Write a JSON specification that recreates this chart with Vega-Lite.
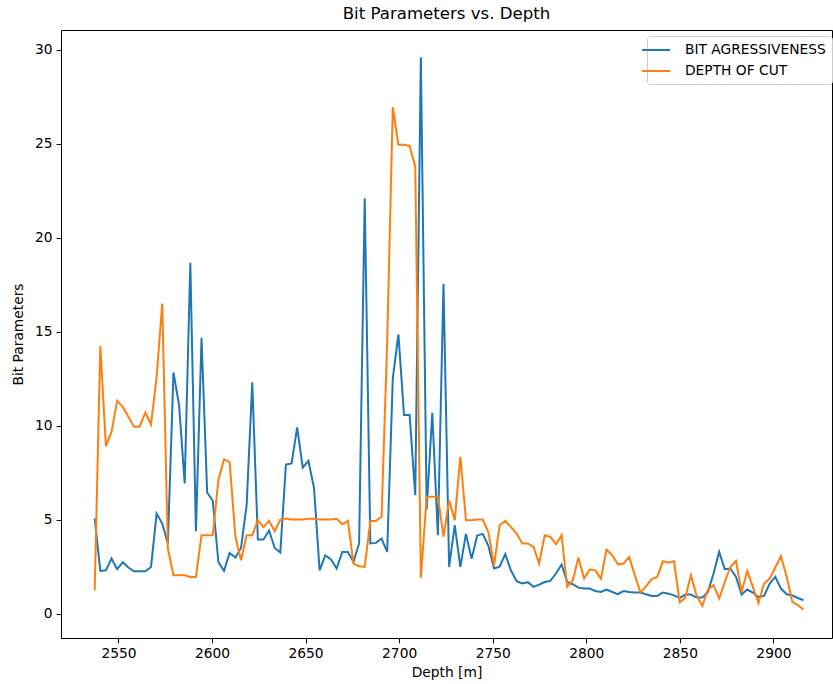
{
  "$schema": "https://vega.github.io/schema/vega-lite/v6.json",
  "width": 771,
  "height": 608,
  "autosize": {"type": "none"},
  "padding": {"left": 61, "top": 30, "right": 1, "bottom": 46},
  "background": "white",
  "title": {"text": "Bit Parameters vs. Depth", "font": "DejaVu Sans", "fontSize": 16.6, "fontWeight": "normal", "color": "black", "offset": 7, "anchor": "middle", "frame": "group"},
  "data": {"values": [
    {"Depth": 2537.3, "BIT AGRESSIVENESS": 5.06, "DEPTH OF CUT": 1.24},
    {"Depth": 2540.3, "BIT AGRESSIVENESS": 2.27, "DEPTH OF CUT": 14.23},
    {"Depth": 2543.3, "BIT AGRESSIVENESS": 2.3, "DEPTH OF CUT": 8.91},
    {"Depth": 2546.3, "BIT AGRESSIVENESS": 2.93, "DEPTH OF CUT": 9.67},
    {"Depth": 2549.3, "BIT AGRESSIVENESS": 2.36, "DEPTH OF CUT": 11.32},
    {"Depth": 2552.3, "BIT AGRESSIVENESS": 2.73, "DEPTH OF CUT": 11.0},
    {"Depth": 2555.3, "BIT AGRESSIVENESS": 2.45, "DEPTH OF CUT": 10.47},
    {"Depth": 2558.3, "BIT AGRESSIVENESS": 2.25, "DEPTH OF CUT": 9.94},
    {"Depth": 2561.3, "BIT AGRESSIVENESS": 2.25, "DEPTH OF CUT": 9.94},
    {"Depth": 2564.4, "BIT AGRESSIVENESS": 2.25, "DEPTH OF CUT": 10.7},
    {"Depth": 2567.4, "BIT AGRESSIVENESS": 2.48, "DEPTH OF CUT": 10.06},
    {"Depth": 2570.4, "BIT AGRESSIVENESS": 5.32, "DEPTH OF CUT": 12.6},
    {"Depth": 2573.4, "BIT AGRESSIVENESS": 4.79, "DEPTH OF CUT": 16.5},
    {"Depth": 2576.4, "BIT AGRESSIVENESS": 3.73, "DEPTH OF CUT": 3.46},
    {"Depth": 2579.4, "BIT AGRESSIVENESS": 12.83, "DEPTH OF CUT": 2.04},
    {"Depth": 2582.4, "BIT AGRESSIVENESS": 11.09, "DEPTH OF CUT": 2.04},
    {"Depth": 2585.4, "BIT AGRESSIVENESS": 6.92, "DEPTH OF CUT": 2.04},
    {"Depth": 2588.4, "BIT AGRESSIVENESS": 18.67, "DEPTH OF CUT": 1.95},
    {"Depth": 2591.4, "BIT AGRESSIVENESS": 4.38, "DEPTH OF CUT": 1.95},
    {"Depth": 2594.4, "BIT AGRESSIVENESS": 14.68, "DEPTH OF CUT": 4.17},
    {"Depth": 2597.4, "BIT AGRESSIVENESS": 6.44, "DEPTH OF CUT": 4.17},
    {"Depth": 2600.4, "BIT AGRESSIVENESS": 6.0, "DEPTH OF CUT": 4.17},
    {"Depth": 2603.4, "BIT AGRESSIVENESS": 2.75, "DEPTH OF CUT": 7.1},
    {"Depth": 2606.4, "BIT AGRESSIVENESS": 2.27, "DEPTH OF CUT": 8.2},
    {"Depth": 2609.4, "BIT AGRESSIVENESS": 3.23, "DEPTH OF CUT": 8.07},
    {"Depth": 2612.5, "BIT AGRESSIVENESS": 2.98, "DEPTH OF CUT": 4.08},
    {"Depth": 2615.5, "BIT AGRESSIVENESS": 3.49, "DEPTH OF CUT": 2.84},
    {"Depth": 2618.5, "BIT AGRESSIVENESS": 5.77, "DEPTH OF CUT": 4.17},
    {"Depth": 2621.5, "BIT AGRESSIVENESS": 12.3, "DEPTH OF CUT": 4.17},
    {"Depth": 2624.5, "BIT AGRESSIVENESS": 3.94, "DEPTH OF CUT": 4.97},
    {"Depth": 2627.5, "BIT AGRESSIVENESS": 3.94, "DEPTH OF CUT": 4.61},
    {"Depth": 2630.5, "BIT AGRESSIVENESS": 4.42, "DEPTH OF CUT": 4.93},
    {"Depth": 2633.5, "BIT AGRESSIVENESS": 3.49, "DEPTH OF CUT": 4.38},
    {"Depth": 2636.5, "BIT AGRESSIVENESS": 3.25, "DEPTH OF CUT": 5.0},
    {"Depth": 2639.5, "BIT AGRESSIVENESS": 7.93, "DEPTH OF CUT": 5.06},
    {"Depth": 2642.5, "BIT AGRESSIVENESS": 7.99, "DEPTH OF CUT": 5.0},
    {"Depth": 2645.5, "BIT AGRESSIVENESS": 9.9, "DEPTH OF CUT": 5.0},
    {"Depth": 2648.5, "BIT AGRESSIVENESS": 7.77, "DEPTH OF CUT": 5.0},
    {"Depth": 2651.5, "BIT AGRESSIVENESS": 8.13, "DEPTH OF CUT": 5.04},
    {"Depth": 2654.5, "BIT AGRESSIVENESS": 6.69, "DEPTH OF CUT": 5.04},
    {"Depth": 2657.5, "BIT AGRESSIVENESS": 2.3, "DEPTH OF CUT": 5.0},
    {"Depth": 2660.5, "BIT AGRESSIVENESS": 3.1, "DEPTH OF CUT": 5.0},
    {"Depth": 2663.6, "BIT AGRESSIVENESS": 2.88, "DEPTH OF CUT": 5.0},
    {"Depth": 2666.6, "BIT AGRESSIVENESS": 2.4, "DEPTH OF CUT": 5.04},
    {"Depth": 2669.6, "BIT AGRESSIVENESS": 3.28, "DEPTH OF CUT": 4.75},
    {"Depth": 2672.6, "BIT AGRESSIVENESS": 3.28, "DEPTH OF CUT": 4.93},
    {"Depth": 2675.6, "BIT AGRESSIVENESS": 2.75, "DEPTH OF CUT": 2.66},
    {"Depth": 2678.6, "BIT AGRESSIVENESS": 3.73, "DEPTH OF CUT": 2.52},
    {"Depth": 2681.6, "BIT AGRESSIVENESS": 22.1, "DEPTH OF CUT": 2.48},
    {"Depth": 2684.6, "BIT AGRESSIVENESS": 3.73, "DEPTH OF CUT": 4.93},
    {"Depth": 2687.6, "BIT AGRESSIVENESS": 3.76, "DEPTH OF CUT": 4.93},
    {"Depth": 2690.6, "BIT AGRESSIVENESS": 3.99, "DEPTH OF CUT": 5.15},
    {"Depth": 2693.6, "BIT AGRESSIVENESS": 3.28, "DEPTH OF CUT": 14.45},
    {"Depth": 2696.6, "BIT AGRESSIVENESS": 12.51, "DEPTH OF CUT": 26.94},
    {"Depth": 2699.6, "BIT AGRESSIVENESS": 14.86, "DEPTH OF CUT": 24.94},
    {"Depth": 2702.6, "BIT AGRESSIVENESS": 10.56, "DEPTH OF CUT": 24.94},
    {"Depth": 2705.6, "BIT AGRESSIVENESS": 10.56, "DEPTH OF CUT": 24.88},
    {"Depth": 2708.6, "BIT AGRESSIVENESS": 6.3, "DEPTH OF CUT": 23.78},
    {"Depth": 2711.6, "BIT AGRESSIVENESS": 29.6, "DEPTH OF CUT": 1.9},
    {"Depth": 2714.7, "BIT AGRESSIVENESS": 5.54, "DEPTH OF CUT": 6.21},
    {"Depth": 2717.7, "BIT AGRESSIVENESS": 10.68, "DEPTH OF CUT": 6.21},
    {"Depth": 2720.7, "BIT AGRESSIVENESS": 4.17, "DEPTH OF CUT": 6.21},
    {"Depth": 2723.7, "BIT AGRESSIVENESS": 17.55, "DEPTH OF CUT": 4.1},
    {"Depth": 2726.7, "BIT AGRESSIVENESS": 2.48, "DEPTH OF CUT": 6.03},
    {"Depth": 2729.7, "BIT AGRESSIVENESS": 4.7, "DEPTH OF CUT": 4.97},
    {"Depth": 2732.7, "BIT AGRESSIVENESS": 2.48, "DEPTH OF CUT": 8.34},
    {"Depth": 2735.7, "BIT AGRESSIVENESS": 4.24, "DEPTH OF CUT": 4.97},
    {"Depth": 2738.7, "BIT AGRESSIVENESS": 2.91, "DEPTH OF CUT": 4.97},
    {"Depth": 2741.7, "BIT AGRESSIVENESS": 4.15, "DEPTH OF CUT": 5.0},
    {"Depth": 2744.7, "BIT AGRESSIVENESS": 4.24, "DEPTH OF CUT": 5.0},
    {"Depth": 2747.7, "BIT AGRESSIVENESS": 3.6, "DEPTH OF CUT": 4.32},
    {"Depth": 2750.7, "BIT AGRESSIVENESS": 2.4, "DEPTH OF CUT": 2.55},
    {"Depth": 2753.7, "BIT AGRESSIVENESS": 2.5, "DEPTH OF CUT": 4.7},
    {"Depth": 2756.7, "BIT AGRESSIVENESS": 3.16, "DEPTH OF CUT": 4.93},
    {"Depth": 2759.7, "BIT AGRESSIVENESS": 2.3, "DEPTH OF CUT": 4.61},
    {"Depth": 2762.8, "BIT AGRESSIVENESS": 1.72, "DEPTH OF CUT": 4.26},
    {"Depth": 2765.8, "BIT AGRESSIVENESS": 1.6, "DEPTH OF CUT": 3.73},
    {"Depth": 2768.8, "BIT AGRESSIVENESS": 1.67, "DEPTH OF CUT": 3.73},
    {"Depth": 2771.8, "BIT AGRESSIVENESS": 1.42, "DEPTH OF CUT": 3.55},
    {"Depth": 2774.8, "BIT AGRESSIVENESS": 1.54, "DEPTH OF CUT": 2.66},
    {"Depth": 2777.8, "BIT AGRESSIVENESS": 1.68, "DEPTH OF CUT": 4.17},
    {"Depth": 2780.8, "BIT AGRESSIVENESS": 1.74, "DEPTH OF CUT": 4.08},
    {"Depth": 2783.8, "BIT AGRESSIVENESS": 2.13, "DEPTH OF CUT": 3.69},
    {"Depth": 2786.8, "BIT AGRESSIVENESS": 2.61, "DEPTH OF CUT": 4.17},
    {"Depth": 2789.8, "BIT AGRESSIVENESS": 1.68, "DEPTH OF CUT": 1.42},
    {"Depth": 2792.8, "BIT AGRESSIVENESS": 1.56, "DEPTH OF CUT": 1.77},
    {"Depth": 2795.8, "BIT AGRESSIVENESS": 1.38, "DEPTH OF CUT": 2.98},
    {"Depth": 2798.8, "BIT AGRESSIVENESS": 1.33, "DEPTH OF CUT": 1.86},
    {"Depth": 2801.8, "BIT AGRESSIVENESS": 1.33, "DEPTH OF CUT": 2.34},
    {"Depth": 2804.8, "BIT AGRESSIVENESS": 1.2, "DEPTH OF CUT": 2.3},
    {"Depth": 2807.8, "BIT AGRESSIVENESS": 1.15, "DEPTH OF CUT": 1.86},
    {"Depth": 2810.8, "BIT AGRESSIVENESS": 1.28, "DEPTH OF CUT": 3.41},
    {"Depth": 2813.9, "BIT AGRESSIVENESS": 1.15, "DEPTH OF CUT": 3.1},
    {"Depth": 2816.9, "BIT AGRESSIVENESS": 1.03, "DEPTH OF CUT": 2.62},
    {"Depth": 2819.9, "BIT AGRESSIVENESS": 1.2, "DEPTH OF CUT": 2.66},
    {"Depth": 2822.9, "BIT AGRESSIVENESS": 1.15, "DEPTH OF CUT": 3.01},
    {"Depth": 2825.9, "BIT AGRESSIVENESS": 1.12, "DEPTH OF CUT": 2.06},
    {"Depth": 2828.9, "BIT AGRESSIVENESS": 1.12, "DEPTH OF CUT": 1.12},
    {"Depth": 2831.9, "BIT AGRESSIVENESS": 1.03, "DEPTH OF CUT": 1.45},
    {"Depth": 2834.9, "BIT AGRESSIVENESS": 0.94, "DEPTH OF CUT": 1.83},
    {"Depth": 2837.9, "BIT AGRESSIVENESS": 0.94, "DEPTH OF CUT": 1.95},
    {"Depth": 2840.9, "BIT AGRESSIVENESS": 1.12, "DEPTH OF CUT": 2.78},
    {"Depth": 2843.9, "BIT AGRESSIVENESS": 1.06, "DEPTH OF CUT": 2.7},
    {"Depth": 2846.9, "BIT AGRESSIVENESS": 0.97, "DEPTH OF CUT": 2.78},
    {"Depth": 2849.9, "BIT AGRESSIVENESS": 0.83, "DEPTH OF CUT": 0.6},
    {"Depth": 2852.9, "BIT AGRESSIVENESS": 1.01, "DEPTH OF CUT": 0.85},
    {"Depth": 2855.9, "BIT AGRESSIVENESS": 1.01, "DEPTH OF CUT": 2.04},
    {"Depth": 2858.9, "BIT AGRESSIVENESS": 0.85, "DEPTH OF CUT": 0.97},
    {"Depth": 2862.0, "BIT AGRESSIVENESS": 0.85, "DEPTH OF CUT": 0.4},
    {"Depth": 2865.0, "BIT AGRESSIVENESS": 1.15, "DEPTH OF CUT": 1.28},
    {"Depth": 2868.0, "BIT AGRESSIVENESS": 2.13, "DEPTH OF CUT": 1.51},
    {"Depth": 2871.0, "BIT AGRESSIVENESS": 3.28, "DEPTH OF CUT": 0.8},
    {"Depth": 2874.0, "BIT AGRESSIVENESS": 2.36, "DEPTH OF CUT": 1.68},
    {"Depth": 2877.0, "BIT AGRESSIVENESS": 2.4, "DEPTH OF CUT": 2.48},
    {"Depth": 2880.0, "BIT AGRESSIVENESS": 1.95, "DEPTH OF CUT": 2.8},
    {"Depth": 2883.0, "BIT AGRESSIVENESS": 1.01, "DEPTH OF CUT": 1.15},
    {"Depth": 2886.0, "BIT AGRESSIVENESS": 1.28, "DEPTH OF CUT": 2.27},
    {"Depth": 2889.0, "BIT AGRESSIVENESS": 1.12, "DEPTH OF CUT": 1.42},
    {"Depth": 2892.0, "BIT AGRESSIVENESS": 0.88, "DEPTH OF CUT": 0.56},
    {"Depth": 2895.0, "BIT AGRESSIVENESS": 0.94, "DEPTH OF CUT": 1.6},
    {"Depth": 2898.0, "BIT AGRESSIVENESS": 1.6, "DEPTH OF CUT": 1.86},
    {"Depth": 2901.0, "BIT AGRESSIVENESS": 1.95, "DEPTH OF CUT": 2.45},
    {"Depth": 2904.0, "BIT AGRESSIVENESS": 1.33, "DEPTH OF CUT": 3.05},
    {"Depth": 2907.1, "BIT AGRESSIVENESS": 1.03, "DEPTH OF CUT": 1.95},
    {"Depth": 2910.1, "BIT AGRESSIVENESS": 0.97, "DEPTH OF CUT": 0.62},
    {"Depth": 2913.1, "BIT AGRESSIVENESS": 0.83, "DEPTH OF CUT": 0.44},
    {"Depth": 2916.1, "BIT AGRESSIVENESS": 0.71, "DEPTH OF CUT": 0.21}
  ]},
  "transform": [{"fold": ["BIT AGRESSIVENESS", "DEPTH OF CUT"], "as": ["series", "value"]}],
  "mark": {"type": "line", "strokeWidth": 2, "clip": true},
  "encoding": {
    "x": {"field": "Depth", "type": "quantitative",
      "scale": {"domain": [2519.3, 2931.3], "nice": false, "zero": false},
      "axis": {"title": "Depth [m]", "values": [2550, 2600, 2650, 2700, 2750, 2800, 2850, 2900], "format": "d"}},
    "y": {"field": "value", "type": "quantitative",
      "scale": {"domain": [-1.3, 31.05], "nice": false, "zero": false},
      "axis": {"title": "Bit Parameters", "values": [0, 5, 10, 15, 20, 25, 30], "format": "d", "titlePadding": 9}},
    "color": {"field": "series", "type": "nominal",
      "scale": {"domain": ["BIT AGRESSIVENESS", "DEPTH OF CUT"], "range": ["#1f77b4", "#ff7f0e"]},
      "legend": {"title": null, "orient": "none", "legendX": 586, "legendY": 6,
        "symbolType": "M-2.7,0H1.3", "symbolSize": 196, "symbolStrokeWidth": 2,
        "labelOffset": 16, "rowPadding": 6, "padding": 6,
        "labelFont": "DejaVu Sans", "labelFontSize": 13.8, "labelColor": "black",
        "fillColor": "rgba(255,255,255,0.8)", "strokeColor": "#cccccc", "cornerRadius": 3}}
  },
  "config": {
    "view": {"stroke": "black", "strokeWidth": 1},
    "axis": {"grid": false, "domain": false, "tickColor": "black", "tickSize": 4.9, "tickWidth": 1,
      "labelColor": "black", "labelFont": "DejaVu Sans", "labelFontSize": 13.8, "labelPadding": 4,
      "titleFont": "DejaVu Sans", "titleFontSize": 13.8, "titleFontWeight": "normal", "titleColor": "black", "titlePadding": 5}
  }
}
